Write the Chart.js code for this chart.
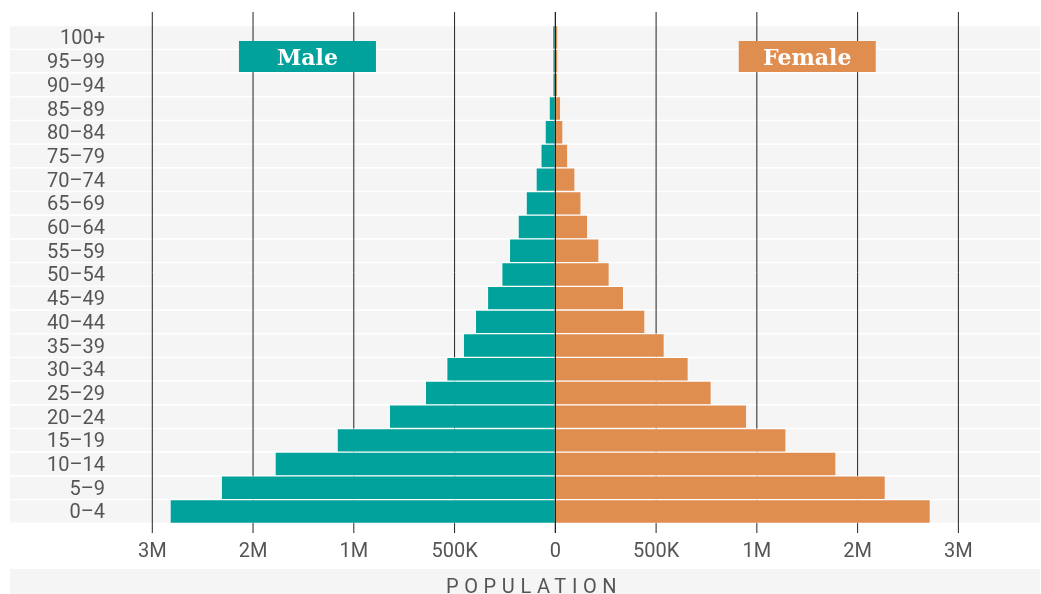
<!DOCTYPE html>
<html>
<head>
<meta charset="utf-8">
<script src="https://cdn.jsdelivr.net/npm/chart.js@4.4.1/dist/chart.umd.min.js"></script>
<style>
  html, body { margin: 0; padding: 0; background: #fff; }
  canvas { display: block; }
</style>
</head>
<body>
<canvas id="pyramid" width="1041" height="594"></canvas>
<script>
// age groups, top of the pyramid first
var ageGroups = ['100+', '95–99', '90–94', '85–89', '80–84', '75–79', '70–74',
  '65–69', '60–64', '55–59', '50–54', '45–49', '40–44', '35–39', '30–34',
  '25–29', '20–24', '15–19', '10–14', '5–9', '0–4'];

// population in thousands
var male = [14, 13, 13, 31, 51, 72, 96, 145, 185, 228, 266, 337, 397, 457,
  539, 645, 824, 1083, 1391, 1658, 1912];
var female = [13, 13, 12, 27, 38, 62, 98, 128, 161, 217, 268, 339, 445, 541,
  660, 774, 950, 1145, 1393, 1638, 1861];

var tickValues = [-2000, -1500, -1000, -500, 0, 500, 1000, 1500, 2000];
var tickLabels = ['3M', '2M', '1M', '500K', '0', '500K', '1M', '2M', '3M'];

var seriesNames = ['Male', 'Female'];
var seriesColors = ['#00a29b', '#e08d50'];
var axisTitle = 'POPULATION';

Chart.defaults.font.family = 'Roboto';

var decorations = {
  id: 'decorations',
  beforeDraw: function(chart) {
    var ctx = chart.ctx, y = chart.scales.y, area = chart.chartArea;
    var h = (area.bottom - area.top) / ageGroups.length;
    ctx.save();
    ctx.fillStyle = '#f5f5f5';
    ageGroups.forEach(function(g, i) {
      var c = y.getPixelForValue(i);
      ctx.fillRect(10, c - h / 2 + 0.75, 1030, h - 1.5);
    });
    ctx.fillRect(10, 569, 1030, 25);
    ctx.restore();
  },
  beforeDatasetsDraw: function(chart) {
    var ctx = chart.ctx, x = chart.scales.x;
    ctx.save();
    ctx.strokeStyle = '#222';
    ctx.lineWidth = 1;
    tickValues.forEach(function(v) {
      if (v === 0) return;
      var px = x.getPixelForValue(v);
      ctx.beginPath();
      ctx.moveTo(px, 12);
      ctx.lineTo(px, 533);
      ctx.stroke();
    });
    ctx.restore();
  },
  afterDatasetsDraw: function(chart) {
    var ctx = chart.ctx, px = chart.scales.x.getPixelForValue(0);
    ctx.save();
    ctx.strokeStyle = '#111';
    ctx.lineWidth = 1.2;
    ctx.beginPath();
    ctx.moveTo(px, 12);
    ctx.lineTo(px, 533);
    ctx.stroke();
    ctx.restore();
  },
  afterDraw: function(chart) {
    var ctx = chart.ctx, x = chart.scales.x;
    var centers = [x.getPixelForValue(-1230), x.getPixelForValue(1250)];
    ctx.save();
    seriesNames.forEach(function(name, i) {
      ctx.fillStyle = seriesColors[i];
      ctx.fillRect(centers[i] - 68.5, 41, 137, 31);
      ctx.fillStyle = '#fff';
      ctx.font = 'bold 22px "DejaVu Serif"';
      ctx.textAlign = 'center';
      ctx.textBaseline = 'alphabetic';
      ctx.fillText(name, centers[i], 64.5);
    });
    // letter-spaced axis title
    ctx.font = '20px Roboto';
    ctx.fillStyle = '#555';
    ctx.letterSpacing = '5.6px';
    ctx.textAlign = 'left';
    var w = ctx.measureText(axisTitle).width - 5.6;
    ctx.fillText(axisTitle, 531.3 - w / 2, 592.5);
    ctx.restore();
  }
};

new Chart(document.getElementById('pyramid').getContext('2d'), {
  type: 'bar',
  data: {
    labels: ageGroups,
    datasets: [{
      label: seriesNames[0],
      data: male.map(function(v) { return -v; }),
      backgroundColor: seriesColors[0],
      borderColor: 'rgba(255,255,255,0.75)',
      borderWidth: 1,
      borderSkipped: false,
      barPercentage: 1,
      categoryPercentage: 1
    }, {
      label: seriesNames[1],
      data: female,
      backgroundColor: seriesColors[1],
      borderColor: 'rgba(255,255,255,0.75)',
      borderWidth: 1,
      borderSkipped: false,
      barPercentage: 1,
      categoryPercentage: 1
    }]
  },
  options: {
    indexAxis: 'y',
    responsive: false,
    animation: false,
    devicePixelRatio: 1,
    layout: { padding: { top: 25.6, right: 1, bottom: 0, left: 0 } },
    plugins: {
      legend: { display: false },
      tooltip: { enabled: false }
    },
    scales: {
      x: {
        stacked: true,
        min: -2185,
        max: 2405,
        grid: { display: false, drawTicks: false },
        border: { display: false },
        afterFit: function(scale) { scale.height = 594 - 523.3; },
        afterBuildTicks: function(scale) {
          scale.ticks = tickValues.map(function(v) { return { value: v }; });
        },
        ticks: {
          padding: 17,
          color: '#555',
          font: { size: 20 },
          maxRotation: 0,
          autoSkip: false,
          callback: function(value) {
            return tickLabels[tickValues.indexOf(value)];
          }
        }
      },
      y: {
        stacked: true,
        grid: { display: false, drawTicks: false },
        border: { display: false },
        afterFit: function(scale) { scale.width = 115; },
        ticks: {
          padding: 10,
          labelOffset: 2,
          color: '#555',
          font: { size: 20 },
          autoSkip: false
        }
      }
    }
  },
  plugins: [decorations]
});
</script>
</body>
</html>
